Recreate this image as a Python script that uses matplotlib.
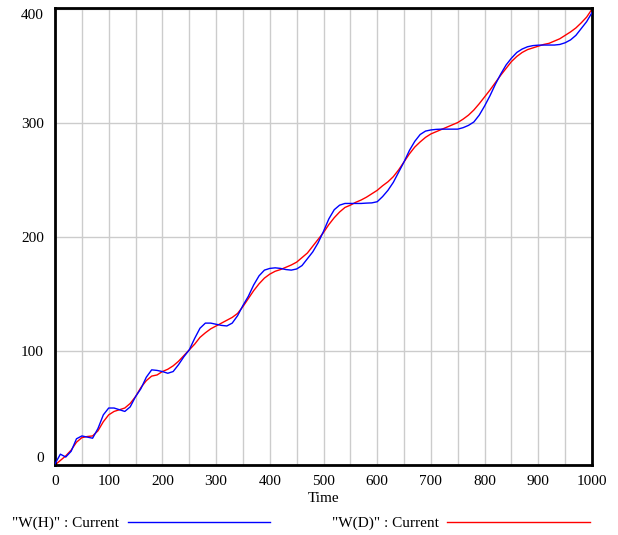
import numpy as np
import matplotlib
matplotlib.use('Agg')
import matplotlib.pyplot as plt
from matplotlib.lines import Line2D

# time axis, sampled every 10 units
time = list(range(0, 1001, 10))

# "W(H)" : Current  (blue)
w_h = [1, 9.5, 7, 12, 23, 25.5, 24.5, 23.5, 32, 44,
       50, 50, 48.5, 47, 51, 60, 67, 77, 83.5, 83,
       82, 80.5, 82, 88, 95, 101, 111, 120, 124.5, 124.5,
       123.5, 122.5, 122, 124.5, 131, 140, 148, 158, 166, 171,
       172.5, 173, 172.5, 171.5, 171, 172, 175, 181, 187, 195,
       205, 216, 224, 228, 229.5, 229.5, 229.5, 229.5, 229.8, 230,
       231, 235.5, 241, 248, 257, 266, 276, 284, 290, 293,
       294, 294.5, 294.7, 294.7, 294.7, 294.7, 296, 298, 301, 307,
       315, 324, 334, 343, 351, 357, 362, 365, 367, 368,
       368.4, 368.5, 368.5, 368.5, 369, 370.5, 373, 377, 383, 389,
       397]

# "W(D)" : Current  (red)
w_d = [0, 4, 8, 13, 20, 24, 25, 25.5, 30, 38,
       44, 47, 48.5, 50, 54, 60, 68, 74, 78, 79,
       82, 84, 87, 91, 96, 101, 106, 112, 116, 119.5,
       122, 124.5, 127, 129.5, 133, 139, 146, 153, 159, 164,
       167.5, 170, 171.5, 173.5, 175.5, 178, 182, 186, 192, 198,
       204, 211, 217, 222, 226, 228, 230.5, 232.5, 235, 238,
       241, 245, 248.5, 253, 259, 266, 273, 279, 283.5, 287.5,
       290.5, 292.5, 294.5, 296.5, 298.5, 300.5, 303.5, 307, 311.5, 317,
       323, 329, 335.5, 342, 348, 354, 358.5, 362, 364.5, 366,
       367.5, 369, 370, 372, 374, 377, 380, 383.5, 388, 393,
       400]

plt.rcParams['font.family'] = ['Liberation Serif', 'DejaVu Serif']

fig = plt.figure(figsize=(6.18, 5.35), dpi=100)
ax = fig.add_axes([55/618, 1 - 465/535, (592 - 55)/618, (465 - 8)/535])

ax.plot(time, w_h, color='#0000ff', lw=1.0, zorder=3)
ax.plot(time, w_d, color='#ff0000', lw=1.0, zorder=2)

ax.set_xlim(0, 1000)
ax.set_ylim(0, 401)
ax.set_xticks(range(0, 1001, 50), minor=True)
ax.set_xticks(range(0, 1001, 100))
ax.set_yticks([0, 100, 200, 300, 400])
ax.grid(True, which='both', axis='x', color='#cccccc', lw=1.0)
ax.grid(True, which='major', axis='y', color='#cccccc', lw=1.0)
ax.set_axisbelow(True)
ax.tick_params(which='both', length=0, labelsize=11, colors='black')
ax.tick_params(axis='x', pad=7)
ax.tick_params(axis='y', pad=8)
ylabs = ax.get_yticklabels()
ylabs[0].set_va('bottom')
ylabs[-1].set_va('top')

for s in ax.spines.values():
    s.set_linewidth(2)
    s.set_color('black')

ax.set_xlabel('Time', fontsize=11, labelpad=3)

# legend strip along the bottom
fig.text(12/618, 1 - 523/535, '"W(H)" : Current', fontsize=11, va='center', ha='left')
fig.add_artist(Line2D([128/618, 270/618], [1 - 522/535] * 2, color='#0000ff', lw=1))
fig.text(332/618, 1 - 523/535, '"W(D)" : Current', fontsize=11, va='center', ha='left')
fig.add_artist(Line2D([447/618, 590/618], [1 - 522/535] * 2, color='#ff0000', lw=1))

fig.savefig('out.png', dpi=100)
